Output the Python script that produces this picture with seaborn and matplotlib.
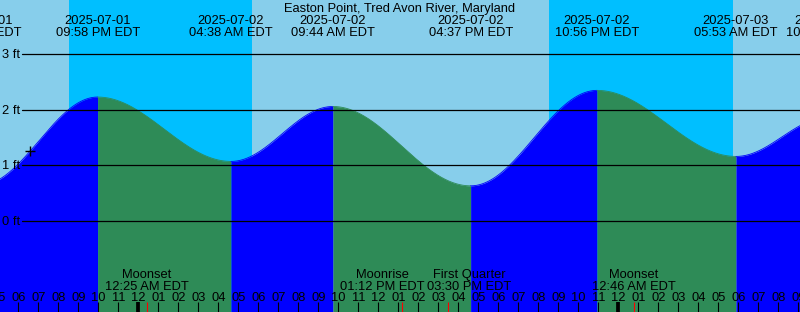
import datetime as dt
import numpy as np
import pandas as pd
import matplotlib
matplotlib.use("Agg")
import matplotlib.pyplot as plt
import seaborn as sns

# ---------------- data ----------------
title = "Easton Point, Tred Avon River, Maryland"
tide_times = ["2025-07-01 04:04 PM", "2025-07-01 09:58 PM", "2025-07-02 04:38 AM",
              "2025-07-02 09:44 AM", "2025-07-02 04:37 PM", "2025-07-02 10:56 PM",
              "2025-07-03 05:53 AM", "2025-07-03 10:28 AM"]
tide_heights = [0.64, 2.23, 1.07, 2.06, 0.63, 2.35, 1.16, 1.86]
sunsets = ["2025-07-01 08:32 PM", "2025-07-02 08:32 PM"]
sunrises = ["2025-07-02 05:40 AM", "2025-07-03 05:43 AM"]
moon_events = ["Moonset", "Moonrise", "First Quarter", "Moonset"]
moon_times = ["2025-07-02 12:25 AM", "2025-07-02 01:12 PM",
              "2025-07-02 03:30 PM", "2025-07-03 12:46 AM"]
now_time = "2025-07-01 06:35 PM"
height_ticks = [0, 1, 2, 3]
view_hours = 40.0

# label nudges (pixels) to keep neighbouring moon labels apart
moon_label_shift_px = [0, -20, 21, 0]

# ---------------- helpers ----------------
FMT = "%Y-%m-%d %I:%M %p"
ORIGIN = dt.datetime(2025, 7, 2, 0, 0)


def hrs(s):
    return (dt.datetime.strptime(s, FMT) - ORIGIN).total_seconds() / 3600.0


def tide_at(t, ts, hs):
    for i in range(len(ts) - 1):
        if ts[i] <= t <= ts[i + 1]:
            f = (t - ts[i]) / (ts[i + 1] - ts[i])
            return hs[i] + (hs[i + 1] - hs[i]) * (1 - np.cos(np.pi * f)) / 2
    return np.nan


sns.set_theme(style="white")
plt.rcParams["font.family"] = ["Liberation Sans", "DejaVu Sans"]
FS = 9.3

W, H = 800, 312
fig = plt.figure(figsize=(W / 100, H / 100), dpi=100)
ax = fig.add_axes([0, 0, 1, 1])
ax.set_axis_off()

x0 = -6.915
x1 = x0 + view_hours
px_per_hour = W / view_hours
ft_px = 55.5
zero_px = 220.8
y_lo = (zero_px - H) / ft_px
y_hi = zero_px / ft_px
ax.set_xlim(x0, x1)
ax.set_ylim(y_lo, y_hi)


def yax(px):
    return 1 - px / H


# background day / night
ax.axvspan(x0, x1, color="#87CEEB", zorder=0, lw=0)
for ss, sr in zip(sunsets, sunrises):
    ax.axvspan(hrs(ss), hrs(sr), color="#00BFFF", zorder=0.5, lw=0)

# tide curve
tt = [hrs(s) for s in tide_times]
for i in range(len(tt) - 1):
    t = np.linspace(tt[i], tt[i + 1], 300)
    h = np.array([tide_at(v, tt, tide_heights) for v in t])
    rising = tide_heights[i + 1] > tide_heights[i]
    col = "#0000FF" if rising else "#2E8B57"
    ax.fill_between(t, y_lo, h, color=col, lw=0, zorder=1)
    df = pd.DataFrame({"t": t, "h": h})
    sns.lineplot(data=df, x="t", y="h", color=col, lw=0.6, ax=ax,
                 estimator=None, sort=False, zorder=1.1)

# height grid lines + labels
for v in height_ticks:
    ax.axhline(v, xmin=22 / W, xmax=1, color="black", lw=0.9, zorder=2)
    ax.text(20 / W, v - 3.8 / ft_px, f"{v} ft", transform=ax.get_yaxis_transform(),
            ha="right", va="baseline", fontsize=FS, color="black", zorder=3)

# now marker
tn = hrs(now_time)
ax.plot([tn], [tide_at(tn, tt, tide_heights)], marker="+", ms=6.5, mew=1.0,
        color="black", zorder=3)

# title and tide labels
ax.text(0.5, yax(12), title, transform=ax.transAxes, ha="center", va="baseline",
        fontsize=FS, color="black", zorder=4)
xt = ax.get_xaxis_transform()
for s, t in zip(tide_times, tt):
    d = dt.datetime.strptime(s, FMT)
    ax.text(t, yax(24), d.strftime("%Y-%m-%d"), transform=xt, ha="center",
            va="baseline", fontsize=FS, color="black", zorder=4, clip_on=False)
    ax.text(t, yax(36), d.strftime("%I:%M %p") + " EDT", transform=xt, ha="center",
            va="baseline", fontsize=FS, color="black", zorder=4, clip_on=False)

# moon events
for name, s, dx in zip(moon_events, moon_times, moon_label_shift_px):
    t = hrs(s)
    d = dt.datetime.strptime(s, FMT)
    tl = t + dx / px_per_hour
    ax.text(tl, yax(278.3), name, transform=xt, ha="center", va="baseline",
            fontsize=FS, color="black", zorder=4)
    ax.text(tl, yax(290), d.strftime("%I:%M %p") + " EDT", transform=xt, ha="center",
            va="baseline", fontsize=FS, color="black", zorder=4)
    ax.vlines(t, 0, 10.3 / H, transform=xt, color="red", lw=0.8, zorder=5)

# hour ticks + labels
for t in range(int(np.floor(x0)), int(np.ceil(x1)) + 1):
    hr = t % 24
    lab = f"{(hr % 12) or 12:02d}"
    ax.text(t, yax(300.7), lab, transform=xt, ha="center", va="baseline",
            fontsize=FS, color="black", zorder=4)
    ax.vlines(t, 0, 10.3 / H, transform=xt, color="black",
              lw=2.7 if hr == 0 else 0.8, zorder=5)

fig.savefig("out.png", dpi=100)
